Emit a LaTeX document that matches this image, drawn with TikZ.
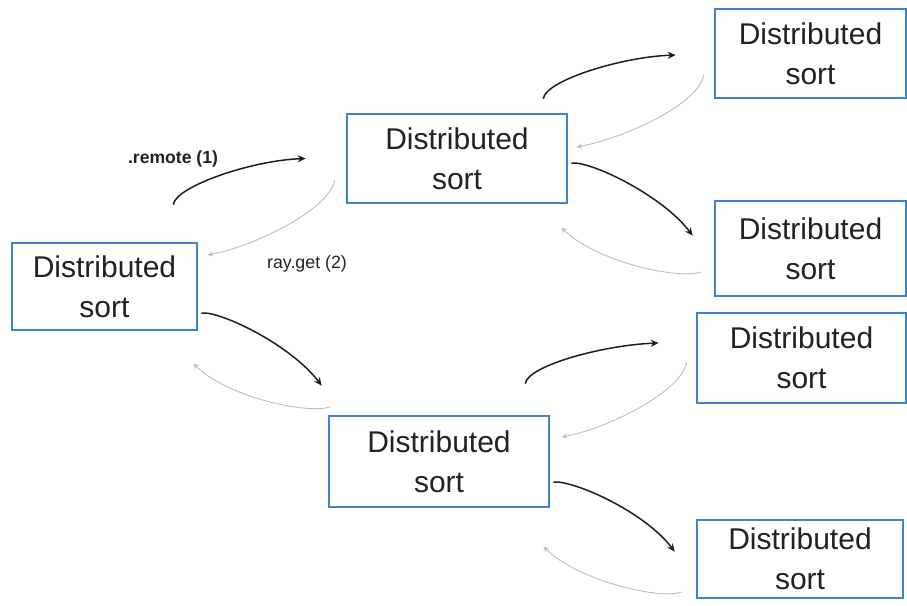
\documentclass[tikz,border=0pt]{standalone}
\usepackage{fontspec}
\setmainfont{Liberation Sans}
\usetikzlibrary{arrows.meta}
\definecolor{boxblue}{HTML}{3D85C6}
\definecolor{calllink}{HTML}{1E1E1E}
\definecolor{retlink}{HTML}{BDBDBD}
\definecolor{inktext}{HTML}{222222}

\begin{document}
\begin{tikzpicture}[x=1pt,y=-1pt,
  sortbox/.style={draw=boxblue, line width=2.6pt, fill=white, inner sep=0pt,
    align=center, text=inktext, font=\fontsize{30}{40}\selectfont},
  callarrow/.style={draw=calllink, line width=1.5pt,
    -{Stealth[length=8pt,width=7pt]}},
  retarrow/.style={draw=retlink, line width=0.9pt,
    -{Stealth[length=6pt,width=5pt]}},
  edgelabel/.style={text=inktext, inner sep=0pt, font=\fontsize{17.8}{20}\selectfont}
]
\useasboundingbox (0,0) rectangle (907,605);

% sort tasks
\node[sortbox, minimum width=185pt, minimum height=87pt] (L)  at (104.5,286.5) {Distributed\\sort};
\node[sortbox, minimum width=220pt, minimum height=89pt] (M1) at (457,158.5)   {Distributed\\sort};
\node[sortbox, minimum width=220pt, minimum height=91pt] (M2) at (439,461.5)   {Distributed\\sort};
\node[sortbox, minimum width=191pt, minimum height=89pt] (R1) at (810.5,53.5)  {Distributed\\sort};
\node[sortbox, minimum width=191pt, minimum height=95pt] (R2) at (810.5,248.5) {Distributed\\sort};
\node[sortbox, minimum width=209pt, minimum height=90pt] (R3) at (801.5,358)   {Distributed\\sort};
\node[sortbox, minimum width=206pt, minimum height=78pt] (R4) at (800,559)     {Distributed\\sort};

% remote calls going up and to the right
\draw[callarrow] ([shift={(-25,-37)}]L.north east)  .. controls +(2,-18) and +(-55,2) .. ([shift={(-40,0)}]M1.west);
\draw[callarrow] ([shift={(-25,-14)}]M1.north east) .. controls +(2,-18) and +(-55,2) .. ([shift={(-38,1.5)}]R1.west);
\draw[callarrow] ([shift={(-25,-31)}]M2.north east) .. controls +(2,-18) and +(-55,2) .. ([shift={(-37,-15)}]R3.west);

% remote calls going down and to the right
\draw[callarrow] ([shift={(3,26.5)}]L.east) .. controls +(20,-2) and +(-30,-40) .. ([shift={(-6,-29)}]M2.north west);
\draw[callarrow] ([shift={(3,4.5)}]M1.east) .. controls +(20,-2) and +(-30,-40) .. ([shift={(-21,36)}]R2.north west);
\draw[callarrow] ([shift={(3,20.5)}]M2.east) .. controls +(20,-2) and +(-30,-40) .. ([shift={(-21,33)}]R4.north west);

% results returned from the upper callees
\draw[retarrow] ([shift={(-11,21.5)}]M1.west) .. controls +(-5,30) and +(45,-8) .. ([shift={(9,-31.5)}]L.east);
\draw[retarrow] ([shift={(-10,21.5)}]R1.west) .. controls +(-5,30) and +(45,-8) .. ([shift={(8,-11.5)}]M1.east);
\draw[retarrow] ([shift={(-9,4)}]R3.west)     .. controls +(-5,30) and +(45,-8) .. ([shift={(11,-24.5)}]M2.east);

% results returned from the lower callees
\draw[retarrow] ([shift={(3,-8)}]M2.north west) .. controls +(-20,8) and +(35,35) .. ([shift={(-5,32)}]L.south east);
\draw[retarrow] ([shift={(-13,23.5)}]R2.west)   .. controls +(-20,8) and +(35,35) .. ([shift={(-7,23)}]M1.south east);
\draw[retarrow] ([shift={(-14,33)}]R4.west)     .. controls +(-20,8) and +(35,35) .. ([shift={(-7,38)}]M2.south east);

% call labels
\node[edgelabel, font=\bfseries\fontsize{17.6}{20}\selectfont] (remotelbl) at (173,159) {.remote (1)};
\node[edgelabel] (getlbl) at (307,264) {ray.get (2)};
\end{tikzpicture}
\end{document}
